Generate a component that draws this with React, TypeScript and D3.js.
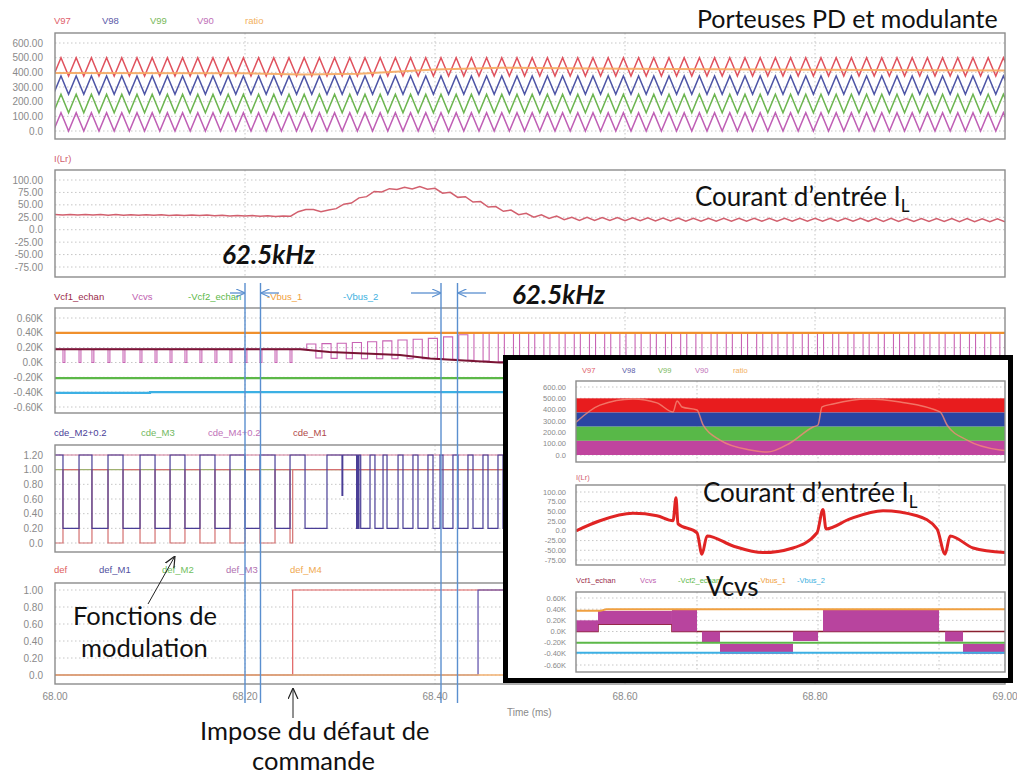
import React from "react";
import * as d3 from "d3";

// ================= DATA =================
const xTicks = [68.0, 68.2, 68.4, 68.6, 68.8, 69.0];
const xTickLabels = ["68.00", "68.20", "68.40", "68.60", "68.80", "69.00"];
const xGrid = [68.2, 68.4, 68.6, 68.8];

// Panel 1 : PD carriers + modulant
const p1Ticks = [600, 500, 400, 300, 200, 100, 0];
const p1Labels = ["600.00", "500.00", "400.00", "300.00", "200.00", "100.00", "0.0"];
const p1Legend = ["V97", "V98", "V99", "V90", "ratio"];
const p1LegendColors = ["#e0606a", "#5a5aa8", "#78b85a", "#c070b8", "#f2b060"];
const carrierLo = [375, 250, 125, 0];
const carrierHi = [500, 375, 250, 125];
const carrierColors = ["#e0525e", "#4e55a6", "#6cb550", "#bf5fb5"];
const carrierPeriodMs = 0.016; // 62.5 kHz
const carrierFirstPeakMs = 68.0063;
const ratioT = [68.0, 68.2, 68.26, 68.32, 68.4, 68.47, 68.6, 68.8, 69.0];
const ratioV = [395, 393, 385, 390, 420, 432, 425, 418, 412];

// Panel 2 : I(Lr)
const iTicks = [100, 75, 50, 25, 0, -25, -50, -75];
const iLabels = ["100.00", "75.00", "50.00", "25.00", "0.0", "-25.00", "-50.00", "-75.00"];
const iLT = [68.0, 68.047, 68.153, 68.247, 68.263, 68.284, 68.305, 68.336, 68.359, 68.389, 68.401, 68.428, 68.465, 68.498, 68.544, 68.679, 68.837, 69.0];
const iLV = [30, 30, 29, 27, 42, 36, 50, 75, 83, 85, 80, 66, 43, 29, 22, 20, 20, 19];
const iLRipple = [0.6, 0.6, 0.6, 0.6, 1, 1, 2, 2, 2, 2, 3, 3, 3, 3, 3, 3, 3, 3];

// Panel 3 : voltages
const p3Ticks = [0.6, 0.4, 0.2, 0, -0.2, -0.4, -0.6];
const p3Labels = ["0.60K", "0.40K", "0.20K", "0.0K", "-0.20K", "-0.40K", "-0.60K"];
const p3Legend = ["Vcf1_echan", "Vcvs", "-Vcf2_echan", "-Vbus_1", "-Vbus_2"];
const p3LegendX = [54, 132, 188, 267, 343];
const p3LegendColors = ["#9a2a4a", "#c060b0", "#5cb848", "#f0a040", "#40b0e0"];
const vbus1T = [68.0, 69.0];
const vbus1V = [0.4, 0.4];
const vcf2T = [68.0, 69.0];
const vcf2V = [-0.21, -0.21];
const vbus2T = [68.0, 68.1, 68.1, 69.0];
const vbus2V = [-0.41, -0.41, -0.4, -0.4];
const vcf1T = [68.0, 68.258, 68.289, 68.363, 68.395, 68.426, 68.468, 69.0];
const vcf1V = [0.18, 0.18, 0.14, 0.1, 0.055, 0.03, 0.0, 0.0];
const vcvsBase = 0.18;
const vcvsDipLevel = 0.0;
const vcvsDipWidth = 0.002;
const vcvsPwmStart = 68.265;
const vcvsPwmT = [68.265, 68.3, 68.4, 68.44, 68.47, 69.0];
const vcvsPwmLo = [0.06, 0.05, 0.05, 0.02, 0.0, 0.0];
const vcvsPwmHi = [0.25, 0.26, 0.33, 0.4, 0.4, 0.4];
const vcvsDuty = 0.6;

// Panel 4 : commands
const p4Ticks = [1.2, 1.0, 0.8, 0.6, 0.4, 0.2, 0];
const p4Labels = ["1.20", "1.00", "0.80", "0.60", "0.40", "0.20", "0.0"];
const p4Legend = ["cde_M2+0.2", "cde_M3", "cde_M4+0.2", "cde_M1"];
const p4LegendX = [54, 141, 208, 293];
const p4LegendColors = ["#4a4098", "#70b860", "#c070b8", "#b04848"];
const cdeTransitions = [68.0084, 68.0253, 68.0389, 68.0558, 68.0716, 68.0895, 68.1053, 68.1211, 68.1368, 68.1526, 68.1684, 68.1842, 68.2, 68.2158, 68.2316, 68.2474];
const faultTime = 68.2502;
const m2LowStart = [68.2632, 68.3175, 68.3193, 68.3218, 68.3368, 68.3495, 68.3663, 68.3821, 68.3979, 68.4084, 68.4242, 68.44, 68.4558, 68.4716];
const m2LowEnd = [68.2863, 68.3184, 68.32, 68.3316, 68.3453, 68.3611, 68.3768, 68.3926, 68.4053, 68.4189, 68.4347, 68.4505, 68.4663, 68.4821];
const m2GlitchT = 68.3021;
const m2GlitchV = 0.65;

// Panel 5 : faults
const p5Ticks = [1.0, 0.8, 0.6, 0.4, 0.2, 0];
const p5Labels = ["1.00", "0.80", "0.60", "0.40", "0.20", "0.0"];
const p5Legend = ["def", "def_M1", "def_M2", "def_M3", "def_M4"];
const p5LegendX = [54, 99, 162, 226, 290];
const p5LegendColors = ["#e06060", "#5050a0", "#70c060", "#b070b0", "#f0a850"];
const defM1Time = 68.4453;

// Inset (zoom-out view), x in grid units
const insU = [0, 3.545];
const insGrid = [1, 2, 3];
const insBandLo = [375, 250, 125, 0];
const insBandHi = [500, 375, 250, 125];
const insBandColors = ["#e81c1e", "#2a44a2", "#58b848", "#c0449e"];
const insRatioU = [0, 0.198, 0.471, 0.669, 0.802, 0.835, 0.876, 1.0, 1.05, 1.19, 1.438, 1.579, 1.769, 1.959, 2.0, 2.033, 2.124, 2.405, 2.678, 3.008, 3.066, 3.231, 3.504, 3.545];
const insRatioV = [290, 440, 494, 460, 380, 477, 424, 397, 265, 132, 45, 26, 106, 247, 265, 424, 450, 494, 468, 380, 265, 132, 45, 40];
const insIU = [0, 0.198, 0.471, 0.669, 0.802, 0.826, 0.843, 1.0, 1.041, 1.083, 1.298, 1.545, 1.793, 1.992, 2.041, 2.066, 2.264, 2.537, 2.818, 2.983, 3.05, 3.091, 3.281, 3.545];
const insIV = [0, 26, 45, 39, 26, 85, 18, -5, -60, -13, -39, -56, -44, -5, 55, 5, 31, 52, 39, 5, -60, -13, -44, -56];
const insBlockU0 = [0, 0.182, 0.793, 1.041, 1.19, 1.793, 2.041, 3.05, 3.198];
const insBlockU1 = [0.182, 0.793, 1.0, 1.19, 1.793, 2.0, 3.0, 3.198, 3.545];
const insBlockLo = [0, 0.13, 0, -0.2, -0.4, -0.17, 0, -0.18, -0.4];
const insBlockHi = [0.2, 0.37, 0.4, 0, -0.22, 0, 0.4, 0, -0.22];
const insVbus1U = [0, 0.2, 0.25, 3.545];
const insVbus1V = [0.37, 0.37, 0.4, 0.4];
const insVcf1U = [0, 0.182, 0.182, 0.793, 0.793, 3.545];
const insVcf1V = [0.0, 0.0, 0.13, 0.13, 0.0, 0.0];

// ================= HELPERS =================
type Pt = [number, number];
const zip = (a: number[], b: number[]): Pt[] => a.map((v, i) => [v, b[i]] as Pt);

const X0 = 55, X1 = 1005;
const xS = d3.scaleLinear().domain([68, 69]).range([X0, X1]);
const uS = d3.scaleLinear().domain(insU).range([576, 1005]);

function triangle(lo: number, hi: number, t0: number, t1: number): Pt[] {
  const half = carrierPeriodMs / 2;
  const pts: Pt[] = [];
  let k = Math.floor((t0 - carrierFirstPeakMs) / half) - 1;
  for (; carrierFirstPeakMs + k * half <= t1 + half; k++) {
    const t = carrierFirstPeakMs + k * half;
    pts.push([t, ((k % 2) + 2) % 2 === 0 ? hi : lo]);
  }
  return pts;
}

function ripple(T: number[], V: number[], A: number[]): Pt[] {
  const env = d3.scaleLinear().domain(T).range(V);
  const amp = d3.scaleLinear().domain(T).range(A);
  const half = carrierPeriodMs / 2;
  const pts: Pt[] = [];
  let k = 0;
  for (let t = 68.0; t <= 69.0 + 1e-9; t += half, k++) {
    pts.push([t, env(t) + (k % 2 === 0 ? amp(t) : -amp(t))]);
  }
  return pts;
}

function vcvsPoints(): Pt[] {
  const pts: Pt[] = [[68.0, vcvsBase]];
  cdeTransitions.forEach((t) => {
    pts.push([t, vcvsDipLevel]);
    pts.push([t + vcvsDipWidth, vcvsBase]);
  });
  const lo = d3.scaleLinear().domain(vcvsPwmT).range(vcvsPwmLo).clamp(true);
  const hi = d3.scaleLinear().domain(vcvsPwmT).range(vcvsPwmHi).clamp(true);
  for (let t = vcvsPwmStart; t < 69.0; t += carrierPeriodMs) {
    pts.push([t, hi(t)]);
    pts.push([t + vcvsDuty * carrierPeriodMs, lo(t)]);
  }
  pts.push([69.0, vcvsPwmHi[vcvsPwmHi.length - 1]]);
  return pts;
}

function m1Points(): Pt[] {
  const pts: Pt[] = [[68.0, 0]];
  let s = 0;
  cdeTransitions.forEach((t) => {
    s = 1 - s;
    pts.push([t, s]);
  });
  pts.push([faultTime, 1]);
  pts.push([69.0, 1]);
  return pts;
}

function m2Points(): Pt[] {
  const pts: Pt[] = [[68.0, 1.2]];
  let s = 1;
  cdeTransitions.forEach((t) => {
    s = 1 - s;
    pts.push([t, s + 0.2]);
  });
  pts.push([faultTime, 1.2]);
  m2LowStart.forEach((t, i) => {
    if (i === 1) {
      pts.push([m2GlitchT, m2GlitchV]);
      pts.push([m2GlitchT + 0.0008, 1.2]);
    }
    pts.push([t, 0.2]);
    pts.push([m2LowEnd[i], 1.2]);
  });
  pts.push([69.0, 1.2]);
  return pts;
}

// ================= COMPONENTS =================
type FrameProps = {
  top: number;
  bottom: number;
  left: number;
  right: number;
  yS: d3.ScaleLinear<number, number>;
  ticks: number[];
  labels: string[];
  vgrid: number[];
  fs: number;
  labelX: number;
};

function Frame({ top, bottom, left, right, yS, ticks, labels, vgrid, fs, labelX }: FrameProps) {
  return (
    <g>
      <rect x={left} y={top} width={right - left} height={bottom - top} fill="#fff" />
      {ticks.map((t, i) => (
        <line key={"h" + i} x1={left} x2={right} y1={yS(t)} y2={yS(t)} stroke="#b8b8b8" strokeWidth={0.8} strokeDasharray="1.5,2.5" />
      ))}
      {vgrid.map((x, i) => (
        <line key={"v" + i} x1={x} x2={x} y1={top} y2={bottom} stroke="#b8b8b8" strokeWidth={0.8} strokeDasharray="1.5,2.5" />
      ))}
      {ticks.map((t, i) => (
        <text key={"l" + i} x={labelX} y={yS(t) + fs * 0.35} fontSize={fs} fill="#8a8a8a" textAnchor="end">
          {labels[i]}
        </text>
      ))}
    </g>
  );
}

function Border({ top, bottom, left, right }: { top: number; bottom: number; left: number; right: number }) {
  return <rect x={left} y={top} width={right - left} height={bottom - top} fill="none" stroke="#8c8c8c" strokeWidth={1.4} />;
}

function Legend({ names, xs, colors, y, fs }: { names: string[]; xs: number[]; colors: string[]; y: number; fs: number }) {
  return (
    <g>
      {names.map((n, i) => (
        <text key={n} x={xs[i]} y={y} fontSize={fs} fill={colors[i]}>
          {n}
        </text>
      ))}
    </g>
  );
}

export default function App() {
  const p1Y = d3.scaleLinear().domain([0, 600]).range([131, 43]);
  const p2Y = d3.scaleLinear().domain([-75, 100]).range([267, 180]);
  const p3Y = d3.scaleLinear().domain([-0.6, 0.6]).range([407, 318]);
  const p4Y = d3.scaleLinear().domain([0, 1.2]).range([543, 455]);
  const p5Y = d3.scaleLinear().domain([0, 1]).range([675, 590]);
  const i1Y = d3.scaleLinear().domain([0, 600]).range([455, 387]);
  const i2Y = d3.scaleLinear().domain([-75, 100]).range([560, 492]);
  const i3Y = d3.scaleLinear().domain([-0.6, 0.6]).range([665, 598]);

  const mk = (yS: d3.ScaleLinear<number, number>, step = false) => {
    const l = d3.line<Pt>().x((d) => xS(d[0])).y((d) => yS(d[1]));
    if (step) l.curve(d3.curveStepAfter);
    return l;
  };
  const mkI = (yS: d3.ScaleLinear<number, number>, smooth = false) => {
    const l = d3.line<Pt>().x((d) => uS(d[0])).y((d) => yS(d[1]));
    if (smooth) l.curve(d3.curveMonotoneX);
    return l;
  };

  const vg = xGrid.map((t) => xS(t));
  const ivg = insGrid.map((u) => uS(u));

  const panels = [
    { id: "c1", top: 33, bottom: 139 },
    { id: "c2", top: 170, bottom: 277 },
    { id: "c3", top: 308, bottom: 413 },
    { id: "c4", top: 445, bottom: 552 },
    { id: "c5", top: 583, bottom: 684 },
    { id: "ci1", top: 381, bottom: 462, left: 576 },
    { id: "ci2", top: 485, bottom: 565, left: 576 },
    { id: "ci3", top: 592, bottom: 672, left: 576 },
  ];

  const blueLines = [245, 260.5, 441, 457.5];
  const blue = "#5a8fcf";

  return (
    <svg width={1017} height={778} style={{ position: "absolute", left: 0, top: 0, background: "#fff" }} fontFamily="'Liberation Sans', Arial, sans-serif">
      <defs>
        {panels.map((p) => (
          <clipPath id={p.id} key={p.id}>
            <rect x={p.left ?? X0} y={p.top} width={X1 - (p.left ?? X0)} height={p.bottom - p.top} />
          </clipPath>
        ))}
        <marker id="arrB" viewBox="0 0 10 10" refX="10" refY="5" markerWidth="9" markerHeight="9" markerUnits="userSpaceOnUse" orient="auto">
          <path d="M0,0.5 L10,5 L0,9.5" fill="none" stroke={blue} strokeWidth={1.3} />
        </marker>
        <marker id="arrK" viewBox="0 0 10 10" refX="10" refY="5" markerWidth="11" markerHeight="11" markerUnits="userSpaceOnUse" orient="auto">
          <path d="M0,0.5 L10,5 L0,9.5" fill="none" stroke="#222" strokeWidth={1.1} />
        </marker>
      </defs>
      <rect x={0} y={0} width={1017} height={778} fill="#fff" />

      {/* ===== Panel 1 ===== */}
      <Legend names={p1Legend} xs={[54, 102, 150, 197, 245]} colors={p1LegendColors} y={24} fs={9.5} />
      <Frame top={33} bottom={139} left={X0} right={X1} yS={p1Y} ticks={p1Ticks} labels={p1Labels} vgrid={vg} fs={10} labelX={43} />
      <g clipPath="url(#c1)">
        {carrierLo.map((lo, i) => (
          <path key={i} d={mk(p1Y)(triangle(lo, carrierHi[i], 68.0, 69.0)) ?? ""} fill="none" stroke={carrierColors[i]} strokeWidth={1.5} />
        ))}
        <path d={mk(p1Y)(zip(ratioT, ratioV)) ?? ""} fill="none" stroke="#f5a860" strokeWidth={2} opacity={0.9} />
      </g>
      <Border top={33} bottom={139} left={X0} right={X1} />

      {/* ===== Panel 2 ===== */}
      <text x={54} y={162} fontSize={9.5} fill="#d06070">I(Lr)</text>
      <Frame top={170} bottom={277} left={X0} right={X1} yS={p2Y} ticks={iTicks} labels={iLabels} vgrid={vg} fs={10} labelX={43} />
      <g clipPath="url(#c2)">
        <path d={mk(p2Y)(ripple(iLT, iLV, iLRipple)) ?? ""} fill="none" stroke="#d2606e" strokeWidth={1.5} />
      </g>
      <Border top={170} bottom={277} left={X0} right={X1} />

      {/* ===== Panel 3 ===== */}
      <Legend names={p3Legend} xs={p3LegendX} colors={p3LegendColors} y={300} fs={9.5} />
      <Frame top={308} bottom={413} left={X0} right={X1} yS={p3Y} ticks={p3Ticks} labels={p3Labels} vgrid={vg} fs={10} labelX={43} />
      <g clipPath="url(#c3)">
        <path d={mk(p3Y, true)(vcvsPoints()) ?? ""} fill="none" stroke="#c864b4" strokeWidth={1.1} />
        <path d={mk(p3Y)(zip(vcf1T, vcf1V)) ?? ""} fill="none" stroke="#7a1434" strokeWidth={2} />
        <path d={mk(p3Y)(zip(vbus1T, vbus1V)) ?? ""} fill="none" stroke="#f0902c" strokeWidth={2.2} />
        <path d={mk(p3Y)(zip(vcf2T, vcf2V)) ?? ""} fill="none" stroke="#5cb848" strokeWidth={2.2} />
        <path d={mk(p3Y)(zip(vbus2T, vbus2V)) ?? ""} fill="none" stroke="#3cb0e4" strokeWidth={2.2} />
      </g>
      <Border top={308} bottom={413} left={X0} right={X1} />

      {/* ===== Panel 4 ===== */}
      <Legend names={p4Legend} xs={p4LegendX} colors={p4LegendColors} y={436} fs={9.5} />
      <Frame top={445} bottom={552} left={X0} right={X1} yS={p4Y} ticks={p4Ticks} labels={p4Labels} vgrid={vg} fs={10} labelX={43} />
      <g clipPath="url(#c4)">
        <path d={mk(p4Y)([[68, 1.0], [69, 1.0]]) ?? ""} fill="none" stroke="#a0b070" strokeWidth={1.2} />
        <path d={mk(p4Y)([[68, 1.2], [69, 1.2]]) ?? ""} fill="none" stroke="#d07a9a" strokeWidth={1.2} />
        <path d={mk(p4Y, true)(m1Points()) ?? ""} fill="none" stroke="#d47070" strokeWidth={1.2} />
        <path d={mk(p4Y, true)(m2Points()) ?? ""} fill="none" stroke="#4a3e96" strokeWidth={1.2} />
      </g>
      <Border top={445} bottom={552} left={X0} right={X1} />

      {/* ===== Panel 5 ===== */}
      <Legend names={p5Legend} xs={p5LegendX} colors={p5LegendColors} y={573} fs={9.5} />
      <Frame top={583} bottom={684} left={X0} right={X1} yS={p5Y} ticks={p5Ticks} labels={p5Labels} vgrid={vg} fs={10} labelX={43} />
      <g clipPath="url(#c5)">
        <path d={mk(p5Y, true)([[68, 0], [faultTime, 1], [69, 1]]) ?? ""} fill="none" stroke="#e06060" strokeWidth={1.2} />
        <path d={mk(p5Y, true)([[68, 0], [defM1Time, 1], [69, 1]]) ?? ""} fill="none" stroke="#5a4aa8" strokeWidth={1.2} />
        <path d={mk(p5Y)([[68, 0], [69, 0]]) ?? ""} fill="none" stroke="#f2b070" strokeWidth={1.4} />
      </g>
      <Border top={583} bottom={684} left={X0} right={X1} />

      {/* x axis */}
      {xTicks.map((t, i) => (
        <text key={t} x={xS(t)} y={700} fontSize={10} fill="#8a8a8a" textAnchor="middle">
          {xTickLabels[i]}
        </text>
      ))}
      <text x={507} y={716} fontSize={10} fill="#8a8a8a">Time (ms)</text>

      {/* blue measurement lines */}
      {blueLines.map((x, i) => (
        <line key={i} x1={x} x2={x} y1={283} y2={703} stroke={blue} strokeWidth={1.4} />
      ))}
      <line x1={230} x2={245} y1={293} y2={293} stroke={blue} strokeWidth={1.3} markerEnd="url(#arrB)" />
      <line x1={279} x2={260.5} y1={293} y2={293} stroke={blue} strokeWidth={1.3} markerEnd="url(#arrB)" />
      <line x1={411} x2={441} y1={293} y2={293} stroke={blue} strokeWidth={1.3} markerEnd="url(#arrB)" />
      <line x1={486} x2={457.5} y1={293} y2={293} stroke={blue} strokeWidth={1.3} markerEnd="url(#arrB)" />

      {/* ===== INSET ===== */}
      <rect x={505.5} y={357.5} width={505} height={323} fill="#fff" stroke="#000" strokeWidth={5} />
      <Legend names={p1Legend} xs={[582, 622, 658, 695, 733]} colors={p1LegendColors} y={373} fs={7.5} />
      <Frame top={381} bottom={462} left={576} right={1005} yS={i1Y} ticks={p1Ticks} labels={p1Labels} vgrid={ivg} fs={7.5} labelX={566} />
      <g clipPath="url(#ci1)">
        {insBandLo.map((lo, i) => (
          <rect key={i} x={uS(insU[0])} width={uS(insU[1]) - uS(insU[0])} y={i1Y(insBandHi[i])} height={i1Y(lo) - i1Y(insBandHi[i])} fill={insBandColors[i]} />
        ))}
        <path d={mkI(i1Y, true)(zip(insRatioU, insRatioV)) ?? ""} fill="none" stroke="#f48a78" strokeWidth={1.5} opacity={0.8} />
      </g>
      <Border top={381} bottom={462} left={576} right={1005} />

      <text x={576} y={480} fontSize={7.5} fill="#d06070">I(Lr)</text>
      <Frame top={485} bottom={565} left={576} right={1005} yS={i2Y} ticks={iTicks} labels={iLabels} vgrid={ivg} fs={7.5} labelX={566} />
      <g clipPath="url(#ci2)">
        <path d={mkI(i2Y, true)(zip(insIU, insIV)) ?? ""} fill="none" stroke="#e02424" strokeWidth={3} strokeLinejoin="round" />
      </g>
      <Border top={485} bottom={565} left={576} right={1005} />

      <Legend names={p3Legend} xs={[576, 640, 678, 758, 797]} colors={p3LegendColors} y={583} fs={7.5} />
      <Frame top={592} bottom={672} left={576} right={1005} yS={i3Y} ticks={p3Ticks} labels={p3Labels} vgrid={ivg} fs={7.5} labelX={566} />
      <g clipPath="url(#ci3)">
        <path d={mkI(i3Y)(zip(insVcf1U, insVcf1V)) ?? ""} fill="none" stroke="#8a2030" strokeWidth={1.5} />
        {insBlockU0.map((u0, i) => (
          <rect key={i} x={uS(u0)} width={uS(insBlockU1[i]) - uS(u0)} y={i3Y(insBlockHi[i])} height={i3Y(insBlockLo[i]) - i3Y(insBlockHi[i])} fill="#b8449e" />
        ))}
        <path d={mkI(i3Y)(zip(insVbus1U, insVbus1V)) ?? ""} fill="none" stroke="#f0a040" strokeWidth={2} />
        <path d={mkI(i3Y)([[0, -0.2], [3.545, -0.2]]) ?? ""} fill="none" stroke="#5cb848" strokeWidth={2} />
        <path d={mkI(i3Y)([[0, -0.38], [3.545, -0.38]]) ?? ""} fill="none" stroke="#3cb0e4" strokeWidth={2} />
      </g>
      <Border top={592} bottom={672} left={576} right={1005} />
      <rect x={505.5} y={357.5} width={505} height={323} fill="none" stroke="#000" strokeWidth={5} />

      {/* ===== Annotations ===== */}
      <g fontFamily="Lato, 'Open Sans', sans-serif" fill="#111">
        <text x={697} y={28} fontSize={25}>Porteuses PD et modulante</text>
        <text x={695} y={206} fontSize={26}>
          Courant d’entrée I<tspan fontSize={17} dy={6}>L</tspan>
        </text>
        <text x={703} y={502} fontSize={26}>
          Courant d’entrée I<tspan fontSize={17} dy={6}>L</tspan>
        </text>
        <text x={706} y={596} fontSize={26}>Vcvs</text>
        <text x={222} y={264} fontSize={26} fontWeight="bold" fontStyle="italic">62.5kHz</text>
        <text x={512} y={304} fontSize={26} fontWeight="bold" fontStyle="italic">62.5kHz</text>
        <text x={73} y={625} fontSize={25.5}>Fonctions de</text>
        <text x={81} y={657} fontSize={25.5}>modulation</text>
        <text x={200} y={740} fontSize={25.5}>Impose du défaut de</text>
        <text x={252} y={770} fontSize={25.5}>commande</text>
      </g>
      <line x1={148} y1={604} x2={175} y2={556} stroke="#222" strokeWidth={1} markerEnd="url(#arrK)" />
      <line x1={293} y1={718} x2={293} y2={688} stroke="#222" strokeWidth={1} markerEnd="url(#arrK)" />
    </svg>
  );
}
